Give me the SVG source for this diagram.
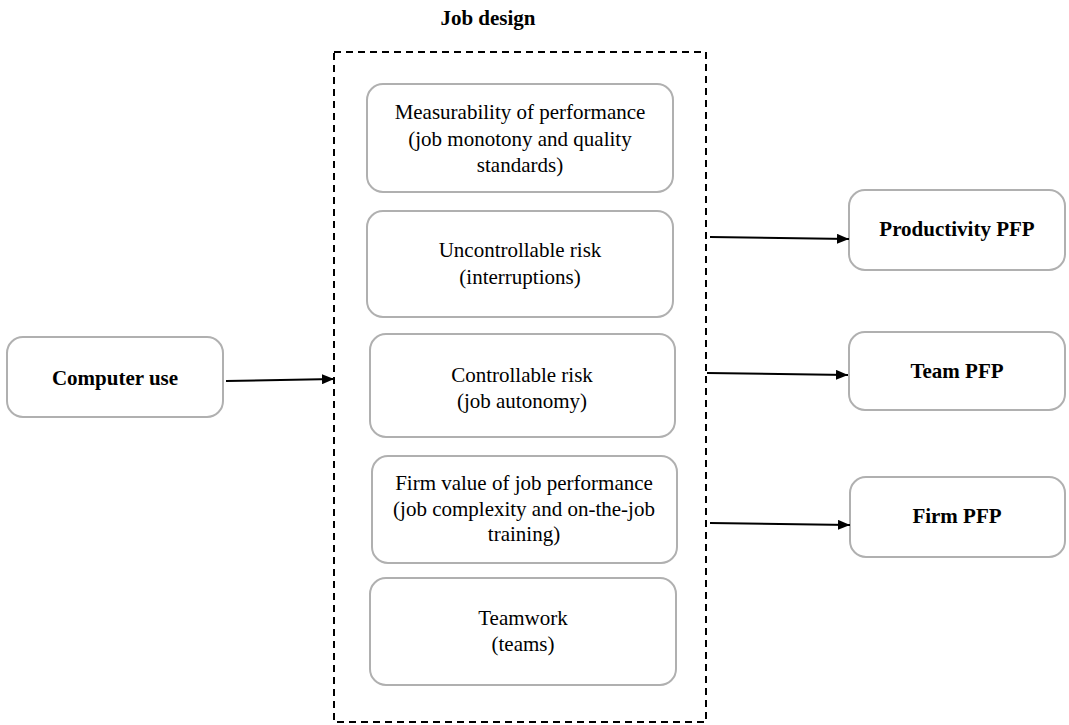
<svg xmlns="http://www.w3.org/2000/svg" width="1069" height="725" viewBox="0 0 1069 725">
<defs>
<style>
.box{fill:#fff;stroke:#b0b0b0;stroke-width:2}
.t{font-family:"Liberation Serif","Times New Roman",serif;font-size:21px;fill:#000;text-anchor:middle}
.b{font-weight:bold}
.conn{stroke:#000;stroke-width:2;fill:none;marker-end:url(#ah)}
</style>
<marker id="ah" viewBox="0 0 12 10" refX="12" refY="5" markerWidth="12" markerHeight="10" markerUnits="userSpaceOnUse" orient="auto">
<path d="M0,0 L12,5 L0,10 Z" fill="#000"/>
</marker>
</defs>
<rect width="1069" height="725" fill="#fff"/>
<g id="job-design">
<text class="t b" x="488" y="25">Job design</text>
<rect x="334" y="52" width="372" height="670" fill="none" stroke="#000" stroke-width="2" stroke-dasharray="7,5"/>
</g>
<g id="measurability">
<rect class="box" x="367" y="84" width="306" height="108" rx="16"/>
<text class="t" x="520" y="119">Measurability of performance</text>
<text class="t" x="520" y="146">(job monotony and quality</text>
<text class="t" x="520" y="172">standards)</text>
</g>
<g id="uncontrollable">
<rect class="box" x="367" y="211" width="306" height="106" rx="16"/>
<text class="t" x="520" y="257">Uncontrollable risk</text>
<text class="t" x="520" y="284">(interruptions)</text>
</g>
<g id="controllable">
<rect class="box" x="370" y="334" width="305" height="103" rx="16"/>
<text class="t" x="522" y="382">Controllable risk</text>
<text class="t" x="522" y="408">(job autonomy)</text>
</g>
<g id="firm-value">
<rect class="box" x="372" y="456" width="305" height="107" rx="16"/>
<text class="t" x="524" y="490">Firm value of job performance</text>
<text class="t" x="524" y="516">(job complexity and on-the-job</text>
<text class="t" x="524" y="541">training)</text>
</g>
<g id="teamwork">
<rect class="box" x="370" y="578" width="306" height="107" rx="16"/>
<text class="t" x="523" y="625">Teamwork</text>
<text class="t" x="523" y="651">(teams)</text>
</g>
<g id="computer-use">
<rect class="box" x="7" y="337" width="216" height="80" rx="16"/>
<text class="t b" x="115" y="385">Computer use</text>
</g>
<g id="productivity-pfp">
<rect class="box" x="849" y="190" width="216" height="80" rx="16"/>
<text class="t b" x="957" y="236">Productivity PFP</text>
</g>
<g id="team-pfp">
<rect class="box" x="849" y="332" width="216" height="78" rx="16"/>
<text class="t b" x="957" y="378">Team PFP</text>
</g>
<g id="firm-pfp">
<rect class="box" x="850" y="477" width="215" height="80" rx="16"/>
<text class="t b" x="957" y="523">Firm PFP</text>
</g>
<g id="connectors">
<line class="conn" x1="226" y1="381" x2="334" y2="379"/>
<line class="conn" x1="710" y1="237" x2="849" y2="239"/>
<line class="conn" x1="707" y1="373" x2="848" y2="375"/>
<line class="conn" x1="710" y1="523" x2="850" y2="525"/>
</g>
</svg>
